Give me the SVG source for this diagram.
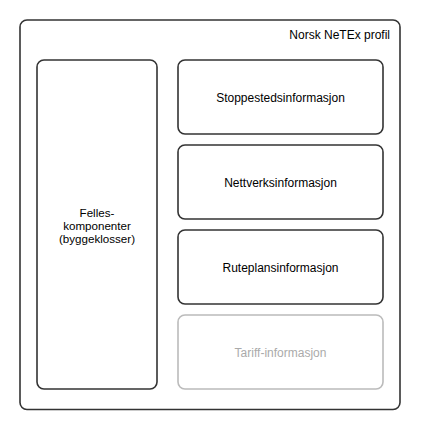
<svg xmlns="http://www.w3.org/2000/svg" width="426" height="430" viewBox="0 0 426 430">
<style>
.box{fill:#fff;stroke:#333;stroke-width:1.6}
.dim{fill:#fff;stroke:#bbb;stroke-width:1.6}
text{font-family:"Liberation Sans",Arial,sans-serif;font-size:12px;fill:#000}
.c{text-anchor:middle}
.s{font-size:11.6px}
.g{fill:#aaa}
</style>
<g id="profil">
<rect class="box" x="20" y="20" width="380" height="389.5" rx="7"/>
<text x="390" y="38.5" text-anchor="end">Norsk NeTEx profil</text>
</g>
<g id="felles">
<rect class="box" x="37" y="60" width="120" height="329" rx="7"/>
<text class="c s" x="97" y="216.5">Felles-</text>
<text class="c s" x="97" y="229.5">komponenter</text>
<text class="c s" x="97" y="242.5">(byggeklosser)</text>
</g>
<g id="stopp">
<rect class="box" x="178" y="60" width="205" height="74" rx="7"/>
<text class="c" x="280.5" y="101.5">Stoppestedsinformasjon</text>
</g>
<g id="nett">
<rect class="box" x="178" y="145" width="205" height="74" rx="7"/>
<text class="c" x="280.5" y="186.5">Nettverksinformasjon</text>
</g>
<g id="rute">
<rect class="box" x="178" y="230" width="205" height="74" rx="7"/>
<text class="c" x="280.5" y="271.5">Ruteplansinformasjon</text>
</g>
<g id="tariff">
<rect class="dim" x="178" y="315" width="205" height="74" rx="7"/>
<text class="c g" x="280.5" y="356.5">Tariff-informasjon</text>
</g>
<g id="connectors"></g>
</svg>
